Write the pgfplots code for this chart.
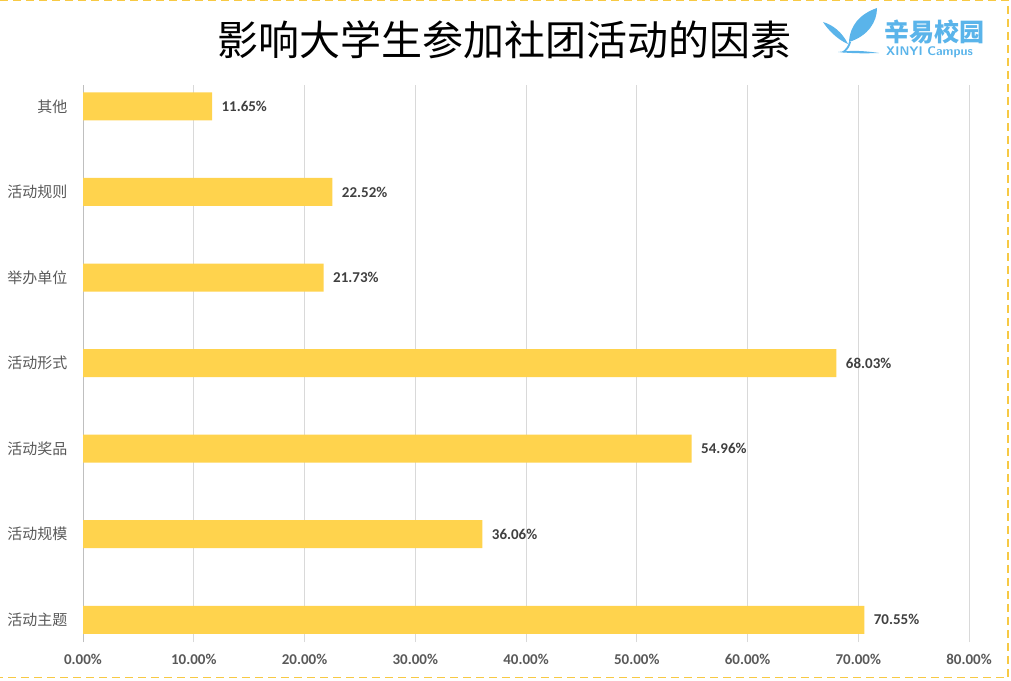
\documentclass[border=0pt]{standalone}
\usepackage{pgfplots}
\pgfplotsset{compat=1.18}
\usepackage{fontspec}
\setmainfont{Carlito}
\newfontfamily\cjk{Noto Sans CJK SC}
\definecolor{barc}{HTML}{FFD34D}
\definecolor{gridc}{HTML}{D9D9D9}
\definecolor{axc}{HTML}{BFBFBF}
\definecolor{lblc}{HTML}{595959}
\definecolor{datc}{HTML}{404040}
\definecolor{logoc}{HTML}{5AB4EA}
\definecolor{dashc}{HTML}{F7C944}
\begin{document}
\begin{tikzpicture}[x=1pt,y=1pt]
\useasboundingbox (0,0) rectangle (1011,680);
% title
\node[font=\cjk\fontsize{41}{44}\selectfont, text=black] at (504,640) {影响大学生参加社团活动的因素};
% logo (decoration)
\fill[logoc] (849,638) .. controls (850,655) and (860,666) .. (877,672) .. controls (877,658) and (868,644) .. (849,638) -- cycle;
\fill[logoc] (848,636) .. controls (842,648) and (833,655) .. (823,658) .. controls (828,650) and (838,640) .. (848,636) -- cycle;
\fill[logoc] (849,638) .. controls (848,634) and (846,631) .. (842,628) -- (844,627.5) .. controls (848,630) and (850,634) .. (851,638) -- cycle;
\fill[logoc] (838,628) .. controls (852,630) and (866,629) .. (879,627) .. controls (866,626.5) and (852,626.5) .. (838,628) -- cycle;
\node[font=\cjk\bfseries\fontsize{25}{27}\selectfont, text=logoc, anchor=west, inner sep=0pt] at (884,648) {辛易校园};
\node[font=\sffamily\bfseries\fontsize{12.5}{13}\selectfont, text=logoc, anchor=west, inner sep=0pt] at (886,628) {XINYI Campus};
% dashed border
\draw[dashc, line width=1.5pt, dash pattern=on 8pt off 5pt] (0,680.2) -- (1008,680.2) -- (1008,2.5) -- (0,2.5);
\begin{axis}[
  at={(83pt,38pt)}, anchor=south west,
  width=886pt, height=557pt, scale only axis,
  xbar, bar width=28pt,
  xmin=0, xmax=80, ymin=-0.26, ymax=6.25,
  xtick={0,10,...,80},
  ytick={0,1,2,3,4,5,6},
  yticklabels={活动主题,活动规模,活动奖品,活动形式,举办单位,活动规则,其他},
  axis y line=left, axis x line=bottom,
  x axis line style={draw=none},
  y axis line style={draw=axc, line width=1pt, -},
  xmajorgrids, major grid style={gridc, line width=0.8pt},
  major tick length=0pt,
  xticklabel={\pgfmathprintnumber[fixed,fixed zerofill,precision=2,assume math mode=true]{\tick}\%},
  xticklabel style={font=\bfseries\fontsize{15}{17}\selectfont, text=lblc, yshift=-9pt},
  yticklabel style={font=\cjk\fontsize{15}{17}\selectfont, text=lblc, xshift=-12pt},
  nodes near coords={\pgfmathprintnumber[fixed,fixed zerofill,precision=2,assume math mode=true]{\pgfplotspointmeta}\%},
  nodes near coords style={font=\bfseries\fontsize{15}{16}\selectfont, text=datc, anchor=west, xshift=6pt},
  clip=false,
]
\addplot[fill=barc, draw=none] coordinates {
  (70.55,0) (36.06,1) (54.96,2) (68.03,3) (21.73,4) (22.52,5) (11.65,6)
};
\end{axis}
\end{tikzpicture}
\end{document}
